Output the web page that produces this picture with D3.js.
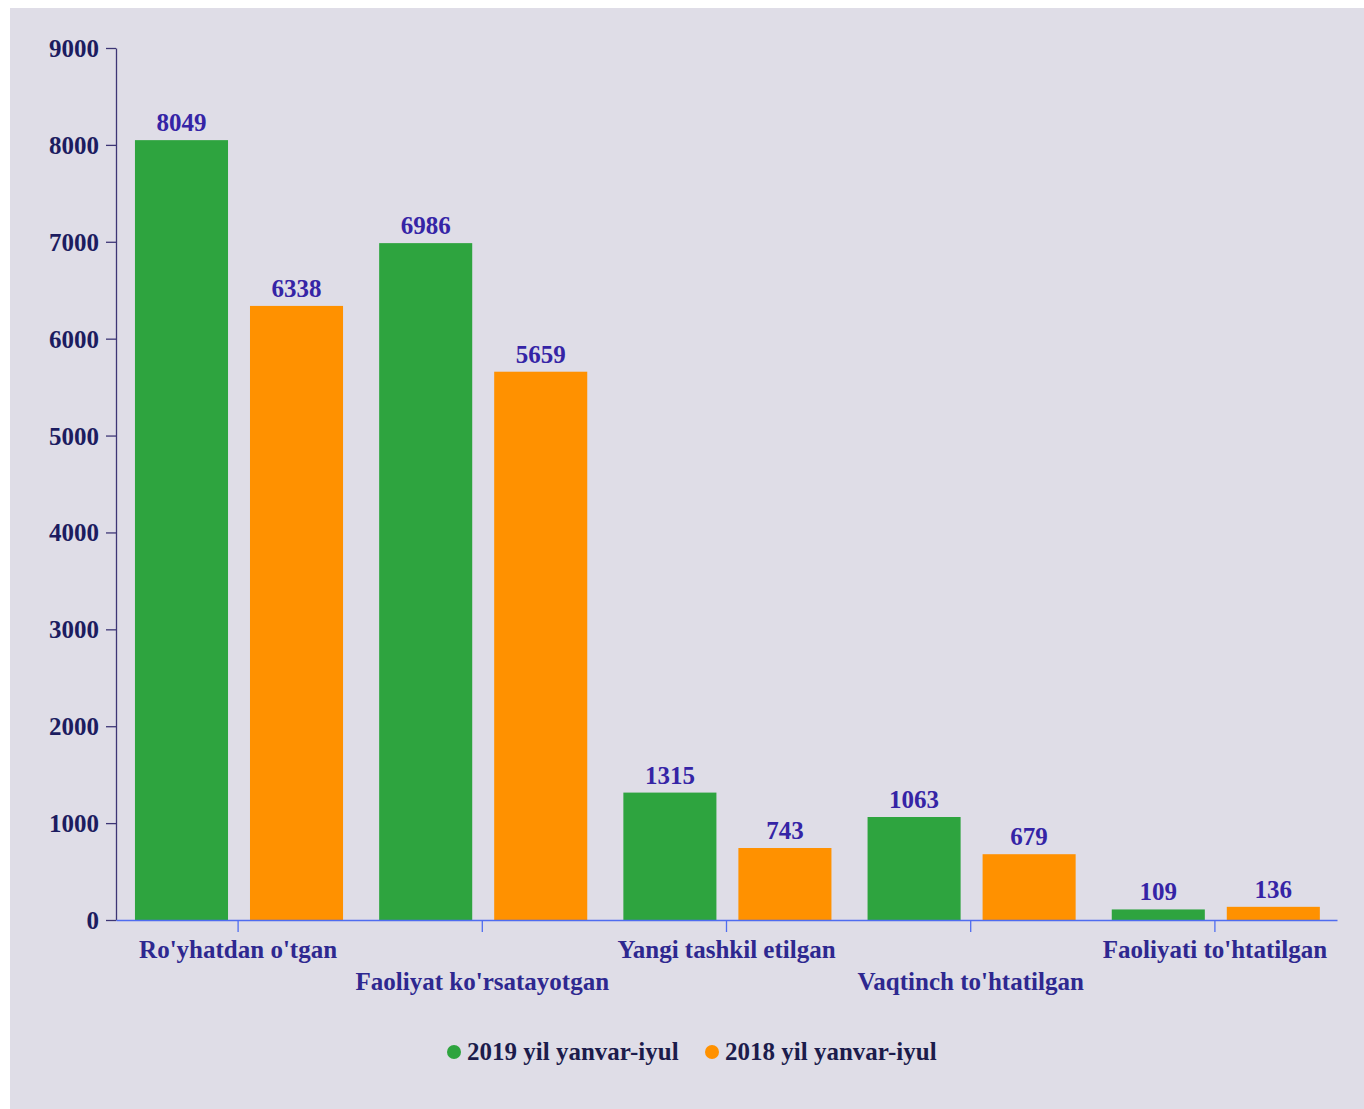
<!DOCTYPE html>
<html><head><meta charset="utf-8">
<script src="https://cdn.jsdelivr.net/npm/d3@7"></script>
<style>
html,body{margin:0;padding:0;background:#fff;}
svg{display:block;}
text{font-family:"Liberation Serif","Times New Roman",serif;font-weight:bold;}
</style></head>
<body>
<svg id="chart" width="1364" height="1109"></svg>
<script>
const categories = ["Ro'yhatdan o'tgan","Faoliyat ko'rsatayotgan","Yangi tashkil etilgan","Vaqtinch to'htatilgan","Faoliyati to'htatilgan"];
const seriesNames = ["2019 yil yanvar-iyul","2018 yil yanvar-iyul"];
const values2019 = [8049, 6986, 1315, 1063, 109];
const values2018 = [6338, 5659, 743, 679, 136];
const yTicks = [0,1000,2000,3000,4000,5000,6000,7000,8000,9000];
const colors = ["#2ea43f","#ff9100"];

(function(){
const FONT = "Liberation Serif";
const svg = d3.select("#chart");
svg.append("rect").attr("x",10).attr("y",8).attr("width",1354).attr("height",1101).attr("fill","#dfdde7");

const mLeft=116, mRight=1337, mTop=48, mBottom=920;
const x = d3.scaleBand().domain(categories).range([mLeft,mRight]).padding(0);
const x1 = d3.scaleBand().domain(seriesNames).range([0,x.bandwidth()]).paddingInner(0.191).paddingOuter(0.157).align(0.525);
const y = d3.scaleLinear().domain([0,9000]).range([mBottom,mTop]);

const series = [values2019, values2018];
const g = svg.append("g");
categories.forEach((c,i)=>{
  seriesNames.forEach((s,j)=>{
    const v = series[j][i];
    g.append("rect").attr("x",x(c)+x1(s)).attr("y",y(v)).attr("width",x1.bandwidth()).attr("height",mBottom-y(v)).attr("fill",colors[j]);
    g.append("text").attr("x",x(c)+x1(s)+x1.bandwidth()/2).attr("y",y(v)-9).attr("text-anchor","middle")
      .attr("font-family",FONT).attr("font-weight","bold")
      .attr("font-size",25).attr("fill","#3524a6").text(v);
  });
});

const ya = svg.append("g").attr("transform",`translate(${mLeft},0)`)
  .call(d3.axisLeft(y).tickValues(yTicks).tickFormat(d3.format("d")).tickSize(10).tickPadding(7).tickSizeOuter(0));
ya.select(".domain").attr("stroke","#3d3575").attr("stroke-width",1.3);
ya.selectAll(".tick line").attr("stroke","#3d3575").attr("stroke-width",1.3);
ya.selectAll(".tick text").attr("font-size",25).attr("fill","#1c1c60").attr("font-family",FONT).attr("font-weight","bold").attr("dy","0.34em");

const xa = svg.append("g").attr("transform",`translate(0,${mBottom})`)
  .call(d3.axisBottom(x).tickSize(12).tickSizeOuter(0));
xa.select(".domain").attr("stroke","#4f6cf0").attr("stroke-width",1.5);
xa.selectAll(".tick line").attr("stroke","#4f6cf0").attr("stroke-width",1.3);
xa.selectAll(".tick text").attr("font-size",25).attr("fill","#2e2890").attr("font-family",FONT).attr("font-weight","bold")
  .attr("y",(d,i)=> i%2===0 ? 38 : 70).attr("dy","0");

const legend = svg.append("g");
const lx = [454, 712];
seriesNames.forEach((s,j)=>{
  legend.append("circle").attr("cx",lx[j]).attr("cy",1052).attr("r",7).attr("fill",colors[j]);
  legend.append("text").attr("x",lx[j]+13).attr("y",1060).attr("font-family",FONT).attr("font-weight","bold")
    .attr("font-size",25).attr("fill","#1c1c4c").text(s);
});
})();
</script>
</body></html>
